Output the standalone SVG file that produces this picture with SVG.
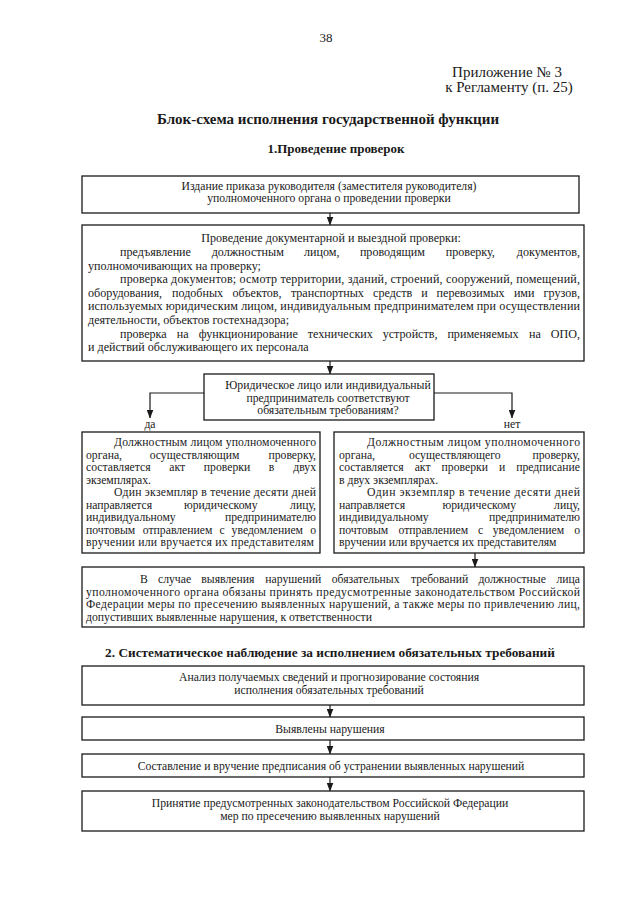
<svg xmlns="http://www.w3.org/2000/svg" width="640" height="905" viewBox="0 0 640 905">
<defs>
<marker id="ad" markerUnits="userSpaceOnUse" markerWidth="7" markerHeight="9" refX="3.5" refY="8.5" orient="0" viewBox="0 0 7 9">
<path d="M0,0 L7,0 L3.5,9 Z" fill="#1a1a1a"/>
</marker>
</defs>
<style>
text{font-family:"Liberation Serif","Times New Roman",serif;fill:#1a1a1a}
.b{fill:#fff;stroke:#1a1a1a;stroke-width:1.3}
.t{font-size:11.7px}
.t2{font-size:12.1px}
.c{text-anchor:middle}
.e{text-anchor:end}
.h{font-size:15px}
.bold{font-weight:bold}
.con{fill:none;stroke:#1a1a1a;stroke-width:1.2}
</style>
<rect width="640" height="905" fill="#fff"/>

<g id="header">
<text x="326" y="42" class="c" style="font-size:13px">38</text>
<text x="507" y="77" class="h c">Приложение № 3</text>
<text x="509" y="92" class="h c">к Регламенту (п. 25)</text>
<text x="328" y="124" class="bold c" style="font-size:15px">Блок-схема исполнения государственной функции</text>
<text x="336" y="153" class="bold c" style="font-size:13px">1.Проведение проверок</text>
<text x="330" y="657" class="bold c" style="font-size:13.3px">2. Систематическое наблюдение за исполнением обязательных требований</text>
</g>

<g id="connectors">
<line class="con" x1="330" y1="213" x2="330" y2="225" marker-end="url(#ad)"/>
<line class="con" x1="330" y1="361" x2="330" y2="374" marker-end="url(#ad)"/>
<path class="con" d="M204,393 H150 V418" marker-end="url(#ad)"/>
<path class="con" d="M434,393 H512 V418" marker-end="url(#ad)"/>
<line class="con" x1="475" y1="553" x2="475" y2="567" marker-end="url(#ad)"/>
<line class="con" x1="330" y1="705" x2="330" y2="717" marker-end="url(#ad)"/>
<line class="con" x1="330" y1="740" x2="330" y2="754" marker-end="url(#ad)"/>
<line class="con" x1="330" y1="777" x2="330" y2="791" marker-end="url(#ad)"/>
<text x="150" y="428" class="t c">да</text>
<text x="512" y="428" class="t c">нет</text>
</g>

<g id="n1">
<rect class="b" x="82" y="176" width="497" height="37"/>
<text x="329" y="189.5" class="t c">Издание приказа руководителя (заместителя руководителя)</text>
<text x="329" y="201.5" class="t c">уполномоченного органа о проведении проверки</text>
</g>

<g id="n2">
<rect class="b" x="82" y="225" width="502" height="136"/>
<g class="t2">
<text x="331" y="242" class="c">Проведение документарной и выездной проверки:</text>
<text y="256"><tspan x="120">предъявление</tspan><tspan x="211.7">должностным</tspan><tspan x="304">лицом,</tspan><tspan x="359.9">проводящим</tspan><tspan x="445.7">проверку,</tspan></text>
<text x="580" y="256" class="e">документов,</text>
<text x="88" y="269.6">уполномочивающих на проверку;</text>
<text x="120" y="283.2" textLength="460">проверка документов; осмотр территории, зданий, строений, сооружений, помещений,</text>
<text y="296.8"><tspan x="88">оборудования,</tspan><tspan x="172">подобных</tspan><tspan x="232.4">объектов,</tspan><tspan x="290.9">транспортных</tspan><tspan x="373.1">средств</tspan><tspan x="421.2">и</tspan><tspan x="436.6">перевозимых</tspan><tspan x="513.9">ими</tspan></text>
<text x="580" y="296.8" class="e">грузов,</text>
<text x="88" y="310.4" textLength="492">используемых юридическим лицом, индивидуальным предпринимателем при осуществлении</text>
<text x="88" y="324">деятельности, объектов гостехнадзора;</text>
<text y="337.6"><tspan x="120">проверка</tspan><tspan x="176.8">на</tspan><tspan x="198.7">функционирование</tspan><tspan x="307.8">технических</tspan><tspan x="382.7">устройств,</tspan><tspan x="447.4">применяемых</tspan><tspan x="529">на</tspan></text>
<text x="580" y="337.6" class="e">ОПО,</text>
<text x="88" y="351.2">и действий обслуживающего их персонала</text>
</g>
</g>

<g id="n3">
<rect class="b" x="204" y="374" width="230" height="46"/>
<text x="328" y="389" class="t c">Юридическое лицо или индивидуальный</text>
<text x="328" y="401.5" class="t c">предприниматель соответствуют</text>
<text x="328" y="414" class="t c">обязательным требованиям?</text>
</g>

<g id="n4">
<rect class="b" x="82" y="432" width="238" height="121"/>
<g class="t">
<text x="114" y="446" textLength="202">Должностным лицом уполномоченного</text>
<text y="458.5"><tspan x="86">органа,</tspan><tspan x="149.7">осуществляющим</tspan></text>
<text x="316" y="458.5" class="e">проверку,</text>
<text y="471"><tspan x="86">составляется</tspan><tspan x="169.3">акт</tspan><tspan x="203.8">проверки</tspan><tspan x="268.7">в</tspan></text>
<text x="316" y="471" class="e">двух</text>
<text x="86" y="483.5">экземплярах.</text>
<text x="114" y="496" textLength="202">Один экземпляр в течение десяти дней</text>
<text y="508.5"><tspan x="86">направляется</tspan><tspan x="184">юридическому</tspan></text>
<text x="316" y="508.5" class="e">лицу,</text>
<text x="86" y="521">индивидуальному</text>
<text x="316" y="521" class="e">предпринимателю</text>
<text y="533.5"><tspan x="86">почтовым</tspan><tspan x="142.8">отправлением</tspan><tspan x="219.6">с</tspan><tspan x="231.6">уведомлением</tspan></text>
<text x="316" y="533.5" class="e">о</text>
<text x="86" y="546" textLength="228">вручении или вручается их представителям</text>
</g>
</g>

<g id="n5">
<rect class="b" x="334" y="432" width="250" height="121"/>
<g class="t">
<text x="367" y="446" textLength="213">Должностным лицом уполномоченного</text>
<text y="458.5"><tspan x="339">органа,</tspan><tspan x="408.9">осуществляющего</tspan></text>
<text x="580" y="458.5" class="e">проверку,</text>
<text y="471"><tspan x="339">составляется</tspan><tspan x="414.7">акт</tspan><tspan x="441.6">проверки</tspan><tspan x="498.9">и</tspan></text>
<text x="580" y="471" class="e">предписание</text>
<text x="339" y="483.5">в двух экземплярах.</text>
<text x="367" y="496" textLength="213">Один экземпляр в течение десяти дней</text>
<text y="508.5"><tspan x="339">направляется</tspan><tspan x="442.5">юридическому</tspan></text>
<text x="580" y="508.5" class="e">лицу,</text>
<text x="339" y="521">индивидуальному</text>
<text x="580" y="521" class="e">предпринимателю</text>
<text y="533.5"><tspan x="339">почтовым</tspan><tspan x="398.5">отправлением</tspan><tspan x="478">с</tspan><tspan x="492.7">уведомлением</tspan></text>
<text x="580" y="533.5" class="e">о</text>
<text x="339" y="546">вручении или вручается их представителям</text>
</g>
</g>

<g id="n6">
<rect class="b" x="82" y="567" width="502" height="60"/>
<g class="t">
<text y="583"><tspan x="140">В</tspan><tspan x="158">случае</tspan><tspan x="201.3">выявления</tspan><tspan x="265.3">нарушений</tspan><tspan x="331.7">обязательных</tspan><tspan x="410.9">требований</tspan><tspan x="478.4">должностные</tspan></text>
<text x="580" y="583" class="e">лица</text>
<text x="86" y="595.5" textLength="494">уполномоченного органа обязаны принять предусмотренные законодательством Российской</text>
<text x="86" y="608" textLength="494">Федерации меры по пресечению выявленных нарушений, а также меры по привлечению лиц,</text>
<text x="86" y="620.5">допустивших выявленные нарушения, к ответственности</text>
</g>
</g>

<g id="n7">
<rect class="b" x="82" y="666" width="502" height="39"/>
<text x="329" y="681" class="t c">Анализ получаемых сведений и прогнозирование состояния</text>
<text x="329" y="694" class="t c">исполнения обязательных требований</text>
</g>

<g id="n8">
<rect class="b" x="82" y="717" width="502" height="23"/>
<text x="330" y="732.5" class="t c">Выявлены нарушения</text>
</g>

<g id="n9">
<rect class="b" x="82" y="754" width="502" height="23"/>
<text x="331" y="769.5" class="t c">Составление и вручение предписания об устранении выявленных нарушений</text>
</g>

<g id="n10">
<rect class="b" x="82" y="791" width="502" height="40"/>
<text x="330" y="807" class="t c">Принятие предусмотренных законодательством Российской Федерации</text>
<text x="330" y="819.5" class="t c">мер по пресечению выявленных нарушений</text>
</g>
</svg>
